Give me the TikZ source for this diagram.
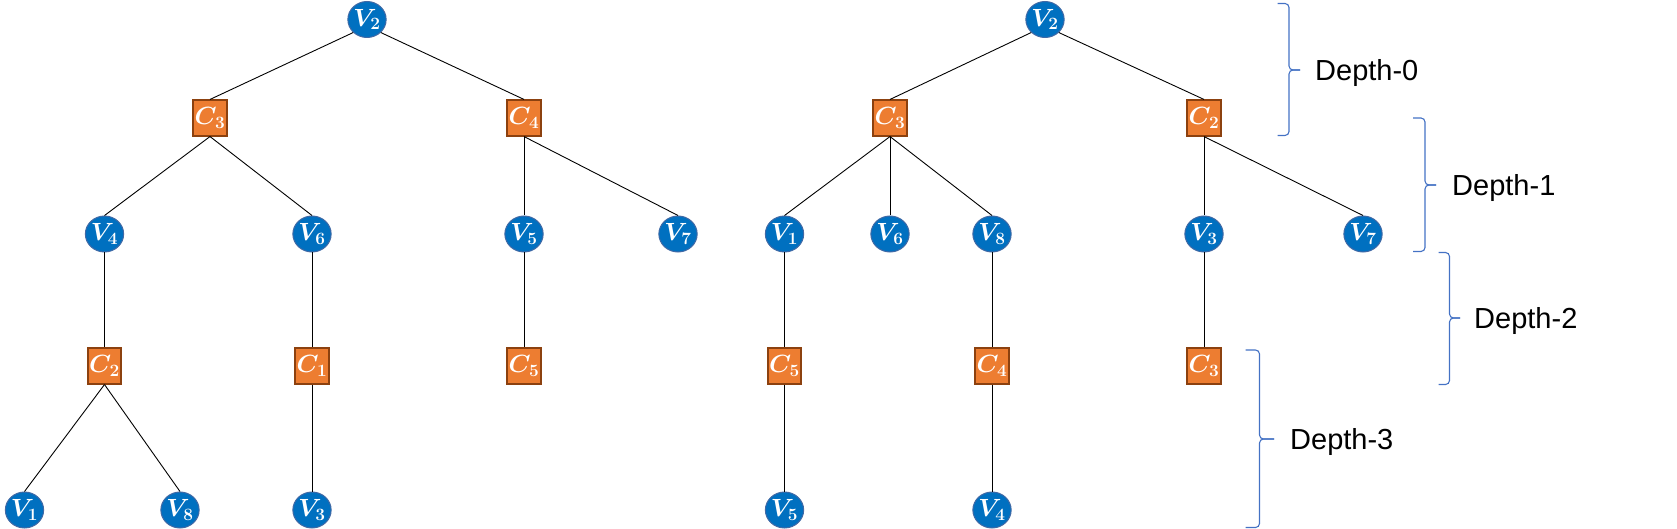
\documentclass[tikz,border=0pt]{standalone}
\usepackage{fontspec}
\setmainfont{Liberation Sans}
\usetikzlibrary{shapes.geometric}
\DeclareMathSizes{23}{23}{18}{14}
\definecolor{vblue}{RGB}{0,112,192}
\definecolor{vline}{RGB}{65,105,165}
\definecolor{corange}{RGB}{237,125,49}
\definecolor{cline}{RGB}{140,65,15}
\definecolor{bblue}{RGB}{68,114,196}
\tikzset{
  vnode/.style={ellipse, fill=vblue, draw=vline, line width=1pt, minimum width=34pt, minimum height=36pt, inner sep=0pt, text=white, font=\fontsize{23}{23}\selectfont\boldmath},
  cnode/.style={rectangle, fill=corange, draw=cline, line width=1.6pt, minimum width=33.5pt, minimum height=35.5pt, inner sep=0pt, text=white, font=\fontsize{23}{23}\selectfont\boldmath},
  edge/.style={draw=black, line width=0.9pt},
  bracepath/.style={draw=bblue, line width=1.1pt, rounded corners=4pt},
  depthlabel/.style={anchor=base west, inner sep=0pt, font=\fontsize{29}{29}\selectfont}
}
\begin{document}
\begin{tikzpicture}[x=1pt,y=-1pt]
\useasboundingbox (0,0) rectangle (1677,529);
% ---------- left tree ----------
\node[vnode] (LV2) at (367,19.5) {$V_2$};
\node[cnode] (LC3) at (210,118) {$C_3$};
\node[cnode] (LC4) at (524,118) {$C_4$};
\node[vnode] (LV4) at (104.5,234) {$V_4$};
\node[vnode] (LV6) at (312,234) {$V_6$};
\node[vnode] (LV5) at (524,234) {$V_5$};
\node[vnode] (LV7) at (678,234) {$V_7$};
\node[cnode] (LC2) at (104.5,366) {$C_2$};
\node[cnode] (LC1) at (312,366) {$C_1$};
\node[cnode] (LC5) at (524,366) {$C_5$};
\node[vnode] (LV1) at (24.5,510) {$V_1$};
\node[vnode] (LV8) at (180,510) {$V_8$};
\node[vnode] (LV3) at (312,510) {$V_3$};
\draw[edge] (LV2.south west) -- (LC3.north);
\draw[edge] (LV2.south east) -- (LC4.north);
\draw[edge] (LC3.south) -- (LV4.north);
\draw[edge] (LC3.south) -- (LV6.north);
\draw[edge] (LC4.south) -- (LV5.north);
\draw[edge] (LC4.south) -- (LV7.north);
\draw[edge] (LV4.south) -- (LC2.north);
\draw[edge] (LV6.south) -- (LC1.north);
\draw[edge] (LV5.south) -- (LC5.north);
\draw[edge] (LC2.south) -- (LV1.north);
\draw[edge] (LC2.south) -- (LV8.north);
\draw[edge] (LC1.south) -- (LV3.north);
% ---------- right tree ----------
\node[vnode] (RV2) at (1045,19.5) {$V_2$};
\node[cnode] (RC3) at (890,118) {$C_3$};
\node[cnode] (RC2) at (1204,118) {$C_2$};
\node[vnode] (RV1) at (784.5,234) {$V_1$};
\node[vnode] (RV6) at (890,234) {$V_6$};
\node[vnode] (RV8) at (992,234) {$V_8$};
\node[vnode] (RV3) at (1204,234) {$V_3$};
\node[vnode] (RV7) at (1363,234) {$V_7$};
\node[cnode] (RC5) at (784.5,366) {$C_5$};
\node[cnode] (RC4) at (992,366) {$C_4$};
\node[cnode] (RC3b) at (1204,366) {$C_3$};
\node[vnode] (RV5) at (784.5,510) {$V_5$};
\node[vnode] (RV4) at (992,510) {$V_4$};
\draw[edge] (RV2.south west) -- (RC3.north);
\draw[edge] (RV2.south east) -- (RC2.north);
\draw[edge] (RC3.south) -- (RV1.north);
\draw[edge] (RC3.south) -- (RV6.north);
\draw[edge] (RC3.south) -- (RV8.north);
\draw[edge] (RC2.south) -- (RV3.north);
\draw[edge] (RC2.south) -- (RV7.north);
\draw[edge] (RV1.south) -- (RC5.north);
\draw[edge] (RV8.south) -- (RC4.north);
\draw[edge] (RV3.south) -- (RC3b.north);
\draw[edge] (RC5.south) -- (RV5.north);
\draw[edge] (RC4.south) -- (RV4.north);
% ---------- braces ----------
\draw[bracepath] (1277.5,3.5) -- (1289,3.5) -- (1289,70) -- (1300,70);
\draw[bracepath] (1277.5,135.5) -- (1289,135.5) -- (1289,70) -- (1300,70);
\node[depthlabel] (D0) at (1315,80.5) {Depth-0};
\draw[bracepath] (1413,118) -- (1425,118) -- (1425,185) -- (1436,185);
\draw[bracepath] (1413,251.5) -- (1425,251.5) -- (1425,185) -- (1436,185);
\node[depthlabel] (D1) at (1452,195.5) {Depth-1};
\draw[bracepath] (1438.5,252.5) -- (1449.5,252.5) -- (1449.5,318) -- (1460,318);
\draw[bracepath] (1438.5,384.5) -- (1449.5,384.5) -- (1449.5,318) -- (1460,318);
\node[depthlabel] (D2) at (1474,328.5) {Depth-2};
\draw[bracepath] (1245.5,350) -- (1259.5,350) -- (1259.5,439) -- (1274,439);
\draw[bracepath] (1245.5,527.5) -- (1259.5,527.5) -- (1259.5,439) -- (1274,439);
\node[depthlabel] (D3) at (1290,449.5) {Depth-3};
\end{tikzpicture}
\end{document}
